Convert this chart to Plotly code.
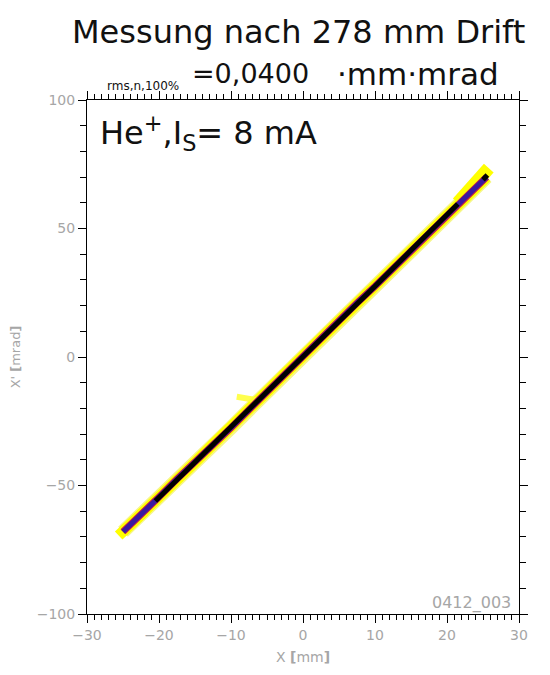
import plotly.graph_objects as go

# ---- data ----
core_x = [-25.0, -22.5, -20.0, -17.5, -15.0, -12.5, -10.0, -7.5, -5.0, -2.5, 0.0,
          2.5, 5.0, 7.5, 10.0, 12.5, 15.0, 17.5, 20.0, 22.5, 25.5]
core_y = [-68.0, -61.5, -54.5, -47.5, -41.0, -34.0, -27.5, -20.5, -13.5, -6.5, 0.3,
          7.0, 14.0, 21.0, 27.5, 34.5, 41.5, 48.5, 55.5, 62.0, 70.0]
mid_x = [-20.5, -15.0, -10.0, -5.0, 0.0, 5.0, 10.0, 15.0, 20.0, 21.5]
mid_y = [-56.0, -41.0, -27.5, -13.5, 0.3, 14.0, 27.5, 41.5, 55.5, 59.5]
halo_top_x = [21.5, 24.0, 25.8]
halo_top_y = [60.0, 67.0, 73.5]
halo_low_x = [-25.6, -22.0]
halo_low_y = [-69.5, -60.0]
blob_x = [-9.2, -6.3]
blob_y = [-15.5, -16.8]
end_x = [25.0, 25.6]
end_y = [69.0, 70.8]

x_range = [-30, 30]
y_range = [-100, 100]

fig = go.Figure()

def add_line(xs, ys, color, width, opacity=1.0):
    fig.add_trace(go.Scatter(x=xs, y=ys, mode="lines",
                             line=dict(color=color, width=width),
                             opacity=opacity, hoverinfo="skip", showlegend=False))

add_line(core_x, core_y, "#f6f68a", 14)
add_line(core_x, core_y, "#ffff00", 11)
add_line(halo_top_x, halo_top_y, "#ffff00", 13)
add_line(halo_low_x, halo_low_y, "#ffff00", 11)
add_line(blob_x, blob_y, "#ffff30", 6, 0.85)
add_line(core_x, core_y, "#c0204a", 7)
add_line(core_x, core_y, "#3a1aa0", 5)
add_line(mid_x, mid_y, "#000000", 5)
add_line(end_x, end_y, "#000000", 5)

# invisible trace for the mirrored axes
fig.add_trace(go.Scatter(x=[0], y=[0], xaxis="x2", yaxis="y2", mode="markers",
                         marker=dict(opacity=0), hoverinfo="skip", showlegend=False))

tickfont = dict(family="DejaVu Sans", size=14, color="#a6a6a6")
common = dict(showgrid=False, zeroline=False, showline=True, linecolor="black",
              linewidth=1, ticks="outside", tickcolor="black", tickwidth=1,
              automargin=False)

fig.update_layout(
    width=550, height=675,
    margin=dict(l=79, r=39, t=92, b=69),
    paper_bgcolor="white", plot_bgcolor="white",
    xaxis=dict(range=x_range, dtick=10, ticklen=8, tickfont=tickfont,
               minor=dict(dtick=1, ticklen=5, ticks="outside", tickcolor="black"),
               title=dict(text="X <b>[</b>mm<b>]</b>", font=dict(family="DejaVu Sans", size=14, color="#a6a6a6"),
                          standoff=10),
               **common),
    yaxis=dict(range=y_range, dtick=50, ticklen=8, tickfont=tickfont,
               minor=dict(dtick=10, ticklen=6, ticks="outside", tickcolor="black"),
               title=dict(text="X' <b>[</b>mrad<b>]</b>", font=dict(family="DejaVu Sans", size=13, color="#a6a6a6"),
                          standoff=26),
               **common),
    xaxis2=dict(range=x_range, dtick=10, ticklen=8, overlaying="x", side="top", anchor="y",
                showticklabels=False,
                minor=dict(dtick=1, ticklen=5, ticks="outside", tickcolor="black"),
                **common),
    yaxis2=dict(range=y_range, dtick=50, ticklen=8, overlaying="y", side="right", anchor="x",
                showticklabels=False,
                minor=dict(dtick=10, ticklen=6, ticks="outside", tickcolor="black"),
                **common),
)

def px2paper_x(px):
    return (px - 87) / 432.0

def px2paper_y(py):
    return (614 - py) / 514.0

fig.add_annotation(text="Messung nach 278 mm Drift", xref="paper", yref="paper",
                   x=px2paper_x(298), y=px2paper_y(32), xanchor="center", yanchor="middle",
                   showarrow=False, font=dict(family="DejaVu Sans", size=32, color="#111111"))
fig.add_annotation(text="rms,n,100%", xref="paper", yref="paper",
                   x=px2paper_x(105), y=px2paper_y(86), xanchor="left", yanchor="middle",
                   showarrow=False, font=dict(family="DejaVu Sans", size=12, color="#111111"))
fig.add_annotation(text="=0,0400", xref="paper", yref="paper",
                   x=px2paper_x(190), y=px2paper_y(74), xanchor="left", yanchor="middle",
                   showarrow=False, font=dict(family="DejaVu Sans", size=27, color="#111111"))
fig.add_annotation(text="·mm·mrad", xref="paper", yref="paper",
                   x=px2paper_x(418), y=px2paper_y(74), xanchor="center", yanchor="middle",
                   showarrow=False, font=dict(family="DejaVu Sans", size=31, color="#111111"))
fig.add_annotation(text="He<sup>+</sup>,I<sub>S</sub>= 8 mA", xref="paper", yref="paper",
                   x=px2paper_x(98), y=px2paper_y(133), xanchor="left", yanchor="middle",
                   showarrow=False, font=dict(family="DejaVu Sans", size=32, color="#111111"))
fig.add_annotation(text="0412_003", xref="paper", yref="paper",
                   x=px2paper_x(513), y=px2paper_y(603), xanchor="right", yanchor="middle",
                   showarrow=False, font=dict(family="DejaVu Sans", size=16, color="#a6a6a6"))

fig.write_html("out.html")
